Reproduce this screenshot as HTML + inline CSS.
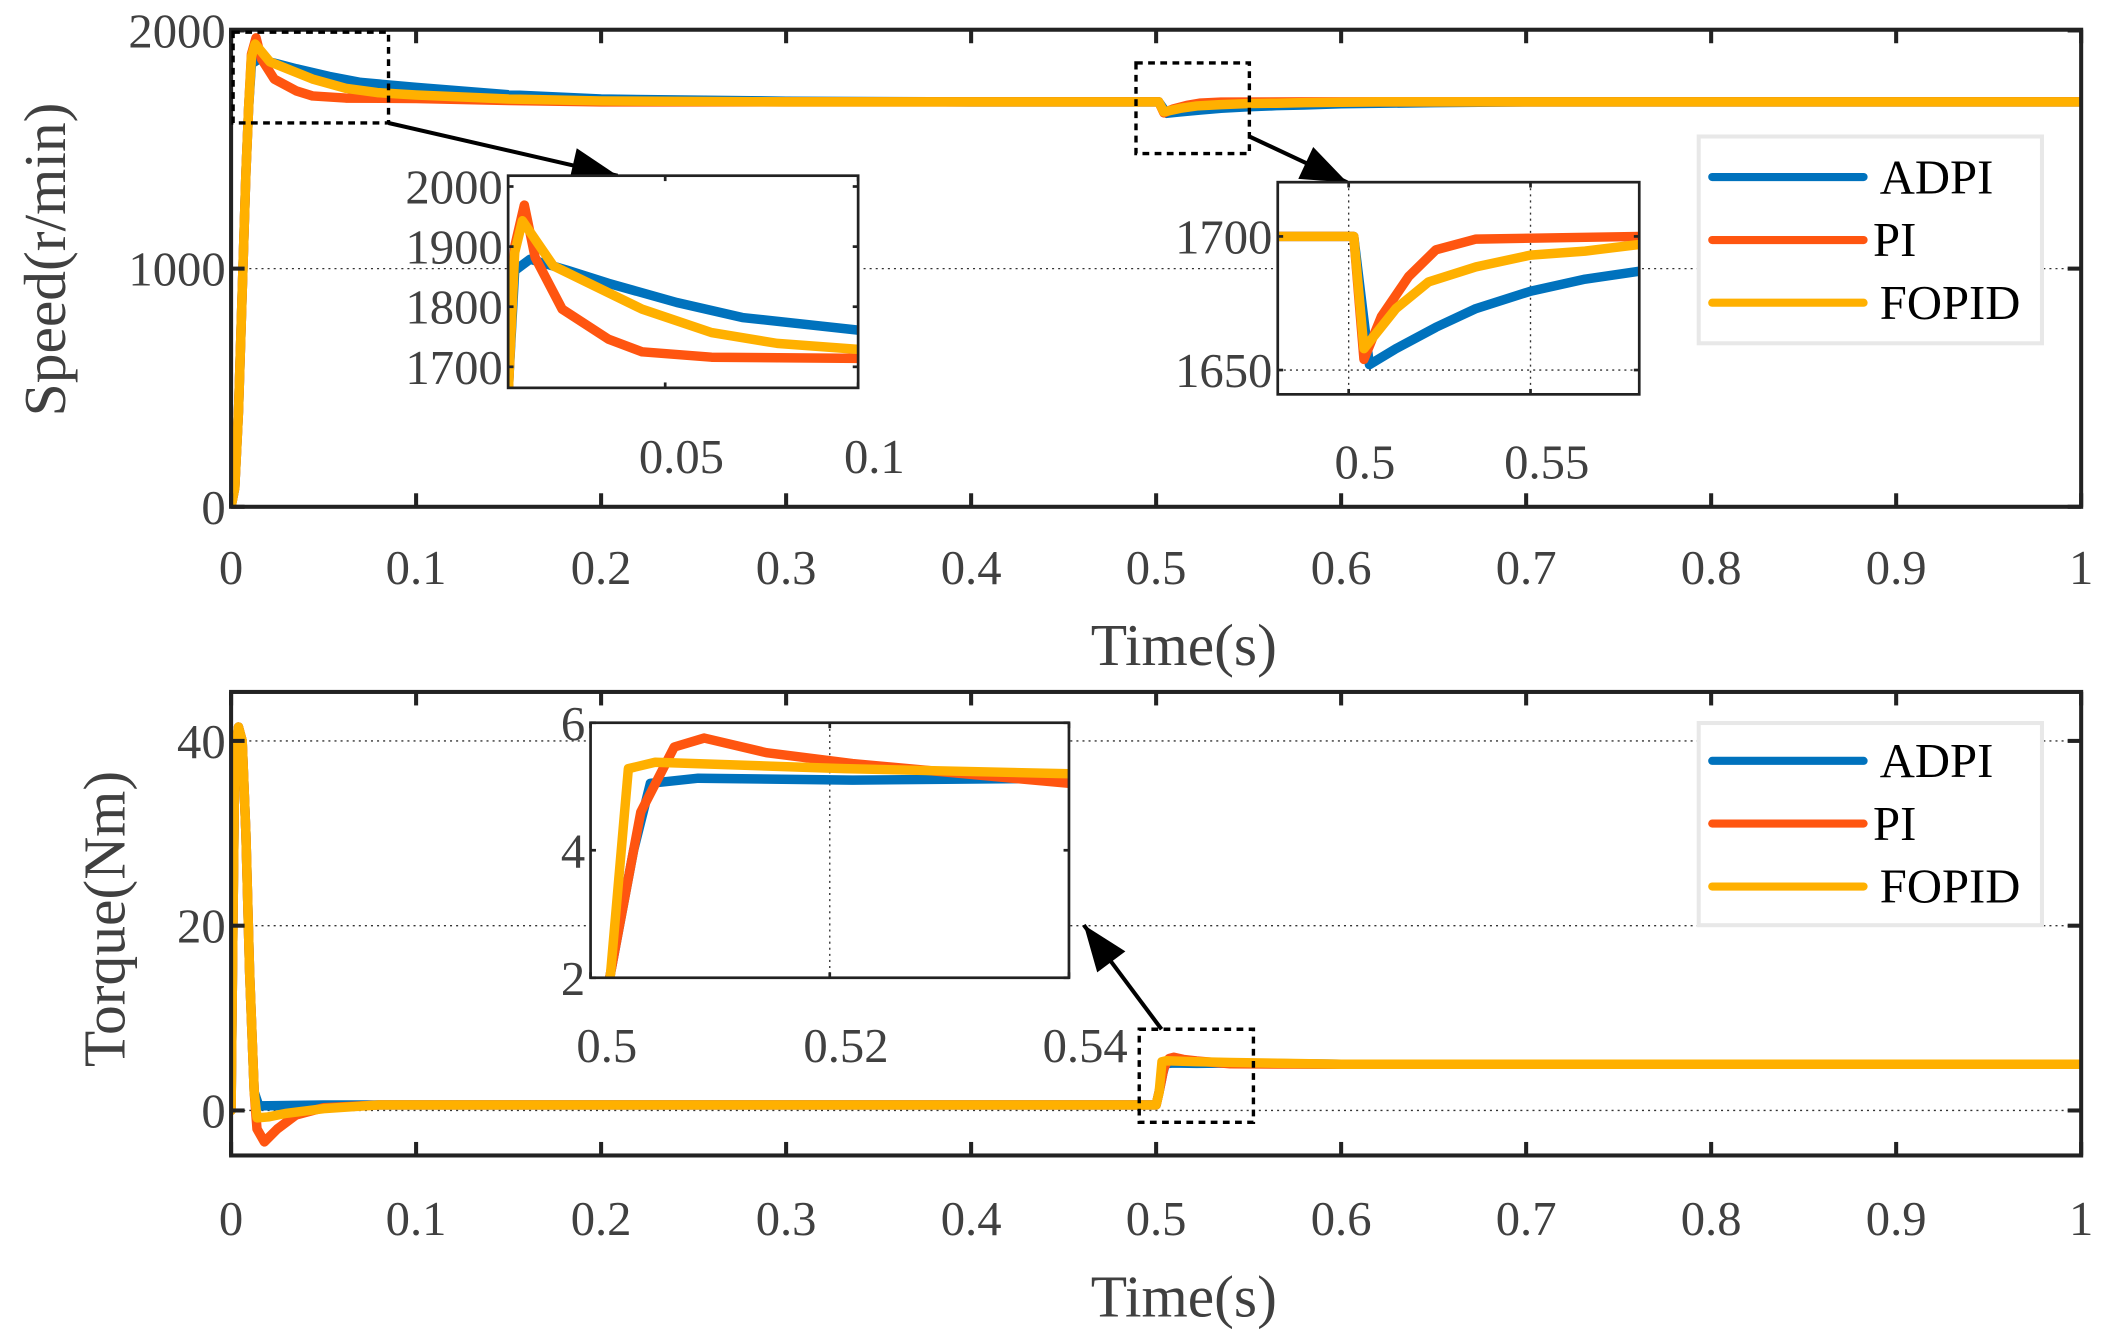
<!DOCTYPE html>
<html><head><meta charset="utf-8"><style>
html,body{margin:0;padding:0;background:#fff;width:2119px;height:1344px;overflow:hidden;}
svg{display:block;}
text{font-family:"Liberation Serif","DejaVu Serif",serif;}
</style></head>
<body>
<svg id="fig" xmlns="http://www.w3.org/2000/svg" width="2119" height="1344" viewBox="0 0 1568 994.5" preserveAspectRatio="none">
<defs>
<clipPath id="c1"><rect x="171" y="21" width="1369" height="354"/></clipPath>
<clipPath id="c2"><rect x="171" y="512" width="1369" height="343"/></clipPath>
<clipPath id="c3"><rect x="376" y="130" width="259" height="157"/></clipPath>
<clipPath id="c4"><rect x="945.5" y="134.8" width="267.5" height="157"/></clipPath>
<clipPath id="c5"><rect x="437" y="534.8" width="354" height="188.7"/></clipPath>
</defs>
<g id="root"></g>
</svg>
<script>
// ---- data ----
const speedT_ADPI = [0,0.002,0.004,0.006,0.008,0.0095,0.011,0.015,0.025,0.0353,0.053,0.070,0.1,0.15,0.2,0.3,0.4,0.5,0.5014,0.5057,0.513,0.524,0.535,0.550,0.565,0.58,0.6,0.65,0.7,1];
const speedV_ADPI = [0,80,400,900,1400,1680,1860,1879,1860,1839,1807,1782,1761,1730,1712,1703,1700,1700,1700,1652,1658,1666,1673,1679.5,1684,1687,1692,1697,1700,1700];
const speedT_PI = [0,0.002,0.004,0.006,0.008,0.0095,0.011,0.0135,0.0163,0.0233,0.0353,0.044,0.062,0.1,0.15,0.2,0.5,0.5014,0.5042,0.509,0.5165,0.524,0.535,0.58,1];
const speedV_PI = [0,80,400,900,1400,1680,1900,1969,1882,1796,1746,1725,1716,1714,1706,1700,1700,1700,1654,1670,1685,1695,1699,1700,1700];
const speedT_FO = [0,0.002,0.004,0.006,0.008,0.0095,0.011,0.013,0.021,0.044,0.062,0.079,0.1,0.15,0.2,0.3,0.5,0.5014,0.5042,0.513,0.522,0.535,0.550,0.565,0.58,0.62,1];
const speedV_FO = [0,80,400,900,1400,1680,1890,1943,1868,1796,1757,1739,1729,1712,1704,1700,1700,1700,1658,1673,1683,1688.6,1693,1694.5,1697,1700,1700];

const torqT_ADPI = [0,0.001,0.002,0.004,0.006,0.008,0.010,0.0125,0.015,0.05,0.5,0.5016,0.5036,0.505,0.509,0.5219,0.54,0.6,1];
const torqV_ADPI = [0,20,38,41.5,40,30,15,2,0.5,0.6,0.6,2,4.0,5.05,5.13,5.1,5.13,5.0,5.0];
const torqT_PI = [0,0.001,0.002,0.004,0.006,0.008,0.010,0.0125,0.014,0.018,0.025,0.035,0.05,0.08,0.5,0.5016,0.5042,0.507,0.5095,0.5147,0.5219,0.54,0.6,1];
const torqV_PI = [0,20,38,41.5,40,30,15,2,-2,-3.4,-2,-0.5,0.3,0.6,0.6,2,4.6,5.62,5.76,5.53,5.36,5.05,5.0,5.0];
const torqT_FO = [0,0.001,0.002,0.004,0.006,0.008,0.010,0.0125,0.014,0.02,0.03,0.05,0.08,0.5,0.50164,0.50316,0.5054,0.5212,0.54,0.6,1];
const torqV_FO = [0,20,38,41.5,40,30,15,2,-0.8,-0.7,-0.3,0.2,0.6,0.6,2,5.28,5.38,5.28,5.2,5.0,5.0];

const mainXTicks = [0,0.1,0.2,0.3,0.4,0.5,0.6,0.7,0.8,0.9,1];
const mainXLabels = ["0","0.1","0.2","0.3","0.4","0.5","0.6","0.7","0.8","0.9","1"];
const speedYTicks = [0,1000,2000];
const torqYTicks = [0,20,40];
const inset1YTicks = [1700,1800,1900,2000];
const inset1XTicks = [0.05,0.1];
const inset2YTicks = [1650,1700];
const inset2XTicks = [0.5,0.55];
const inset3YTicks = [2,4,6];
const inset3XTicks = [0.5,0.52,0.54];
const seriesNames = ["ADPI","PI","FOPID"];
const colors = {ADPI:"#0072BD",PI:"#FF5510",FOPID:"#FFB000"};

// ---- helpers ----
const NS="http://www.w3.org/2000/svg";
const root=document.getElementById('root');
function el(tag,attrs,parent){const e=document.createElementNS(NS,tag);for(const k in attrs)e.setAttribute(k,attrs[k]);(parent||root).appendChild(e);return e;}
function lin(d0,d1,r0,r1){return v=>r0+(v-d0)/(d1-d0)*(r1-r0);}
function txt(s,x,y,size,anchor,parent,fill){const t=el('text',{x:x,y:y,'font-size':size,'text-anchor':anchor||'middle',fill:fill||'#404040'},parent);t.textContent=s;return t;}

function axes(o){
  const g=el('g',{});
  
  
  const sx=lin(o.xd[0],o.xd[1],o.x0,o.x1), sy=lin(o.yd[0],o.yd[1],o.y1,o.y0);
  el('rect',{x:o.x0,y:o.y0,width:o.x1-o.x0,height:o.y1-o.y0,fill:'#fff',stroke:'none'},g);
  (o.yGrid||[]).forEach(v=>{const l=el('line',{x1:o.x0,x2:o.x1,y1:sy(v),y2:sy(v),stroke:'#333','stroke-width':1,'stroke-dasharray':'1.5 3'},g);
    
    });
  (o.xGrid||[]).forEach(v=>{const l=el('line',{x1:sx(v),x2:sx(v),y1:o.y0,y2:o.y1,stroke:'#333','stroke-width':1,'stroke-dasharray':'1.5 3'},g);
    
    });
  const sg=el('g',{'clip-path':'url(#'+o.clip+')'},g);
  o.series.forEach(s=>{
    let d='';
    s.t.forEach((t,i)=>{d+=(i?'L':'M')+sx(t).toFixed(2)+','+sy(s.v[i]).toFixed(2);});
    const p=el('path',{d:d,fill:'none',stroke:colors[s.n],'stroke-width':o.lw,'stroke-linejoin':'round','stroke-linecap':'round'},sg);
    
    
  });
  el('rect',{x:o.x0,y:o.y0,width:o.x1-o.x0,height:o.y1-o.y0,fill:'none',stroke:'#222','stroke-width':o.fw},g);
  const tl=o.tickLen||0;
  (o.xTicks||[]).forEach((v,i)=>{
    if(tl){el('line',{x1:sx(v),x2:sx(v),y1:o.y1,y2:o.y1-tl,stroke:'#222','stroke-width':o.fw},g);
      el('line',{x1:sx(v),x2:sx(v),y1:o.y0,y2:o.y0+tl,stroke:'#222','stroke-width':o.fw},g);}
    const t=txt(o.xLabels?o.xLabels[i]:String(v),sx(v)+(o.xLabDx||0),o.xLabY,o.fs,'middle',g);
    
    
  });
  (o.yTicks||[]).forEach(v=>{
    if(tl){el('line',{x1:o.x0,x2:o.x0+tl,y1:sy(v),y2:sy(v),stroke:'#222','stroke-width':o.fw},g);
      el('line',{x1:o.x1,x2:o.x1-tl,y1:sy(v),y2:sy(v),stroke:'#222','stroke-width':o.fw},g);}
    const t=txt(String(v),o.x0-4,sy(v)+o.fs*0.35,o.fs,'end',g);
    
    
  });
  return g;
}

function legend(x0,y0,x1,y1,ys,name){
  const g=el('g',{});
  
  
  el('rect',{x:x0,y:y0,width:x1-x0,height:y1-y0,fill:'#fff',stroke:'#e8e8e8','stroke-width':3},g);
  seriesNames.forEach((n,i)=>{
    const e=el('g',{},g);
    
    
    el('line',{x1:1267,x2:1379,y1:ys[i],y2:ys[i],stroke:colors[n],'stroke-width':6,'stroke-linecap':'round'},e);
    txt(n,n==='PI'?1386:1391,ys[i]+12,36,'start',e,'#000');
  });
}

axes({name:'speed-axes',x0:171,x1:1540,y0:22,y1:375,xd:[0,1],yd:[0,2003],clip:'c1',lw:7,fw:3,tickLen:10,
  xTicks:mainXTicks,xLabels:mainXLabels,xLabY:432,yTicks:speedYTicks,yGrid:[1000],fs:36,
  series:[{n:'ADPI',t:speedT_ADPI,v:speedV_ADPI},{n:'PI',t:speedT_PI,v:speedV_PI},{n:'FOPID',t:speedT_FO,v:speedV_FO}]});
axes({name:'torque-axes',x0:171,x1:1540,y0:512,y1:855,xd:[0,1],yd:[-4.87,45.3],clip:'c2',lw:7,fw:3,tickLen:10,
  xTicks:mainXTicks,xLabels:mainXLabels,xLabY:914,yTicks:torqYTicks,yGrid:[0,20,40],fs:36,
  series:[{n:'ADPI',t:torqT_ADPI,v:torqV_ADPI},{n:'PI',t:torqT_PI,v:torqV_PI},{n:'FOPID',t:torqT_FO,v:torqV_FO}]});

legend(1257,101,1511,254,[131,177.6,224],'speed-legend');
legend(1257,535,1511,684.6,[563,609.4,656],'torque-legend');

[[172.5,23.8,287.5,91],[840.6,46.6,924.5,113.6],[843,761.6,927.5,830.5]].forEach(b=>{
  const r=el('rect',{x:b[0],y:b[1],width:b[2]-b[0],height:b[3]-b[1],fill:'none',stroke:'#000','stroke-width':2.5,'stroke-dasharray':'5 4'});
  
  
});
[[287.5,91,457,130],[924.5,101,997,135],[859.5,761.6,802,684.5]].forEach(a=>{
  const l=el('line',{x1:a[0],y1:a[1],x2:a[2],y2:a[3],stroke:'#000','stroke-width':3});
  
  
  const ang=Math.atan2(a[3]-a[1],a[2]-a[0]),L=34,W=13;
  const bx=a[2]-L*Math.cos(ang),by=a[3]-L*Math.sin(ang);
  const p=el('polygon',{points:[a[2],a[3],bx-W*Math.sin(ang),by+W*Math.cos(ang),bx+W*Math.sin(ang),by-W*Math.cos(ang)].join(','),fill:'#000'});
  
  
});

axes({name:'speed-inset-startup',x0:376,x1:635,y0:130,y1:287,xd:[0.0093,0.1],yd:[1665,2018],clip:'c3',lw:7,fw:2,tickLen:4,
  xTicks:inset1XTicks,xLabels:["0.05","0.1"],xLabY:350,xLabDx:12,yTicks:inset1YTicks,fs:36,
  series:[{n:'ADPI',t:speedT_ADPI,v:speedV_ADPI},{n:'PI',t:speedT_PI,v:speedV_PI},{n:'FOPID',t:speedT_FO,v:speedV_FO}]});
axes({name:'speed-inset-load',x0:945.5,x1:1213,y0:134.8,y1:291.8,xd:[0.4805,0.5799],yd:[1640.9,1720.3],clip:'c4',lw:7,fw:2,tickLen:4,
  xTicks:inset2XTicks,xLabels:["0.5","0.55"],xLabY:354,xLabDx:12,yTicks:inset2YTicks,xGrid:[0.5,0.55],yGrid:[1650],fs:36,
  series:[{n:'ADPI',t:speedT_ADPI,v:speedV_ADPI},{n:'PI',t:speedT_PI,v:speedV_PI},{n:'FOPID',t:speedT_FO,v:speedV_FO}]});
axes({name:'torque-inset-load',x0:437,x1:791,y0:534.8,y1:723.5,xd:[0.5,0.54],yd:[2,6],clip:'c5',lw:7,fw:2,tickLen:4,
  xTicks:inset3XTicks,xLabels:["0.5","0.52","0.54"],xLabY:786,xLabDx:12,yTicks:inset3YTicks,xGrid:[0.52],fs:36,
  series:[{n:'ADPI',t:torqT_ADPI,v:torqV_ADPI},{n:'PI',t:torqT_PI,v:torqV_PI},{n:'FOPID',t:torqT_FO,v:torqV_FO}]});

let t=txt('Time(s)',876,492,44,'middle');


t=txt('Time(s)',876,974,44,'middle');


t=txt('Speed(r/min)',0,0,44,'middle');t.setAttribute('transform','translate(48,192) rotate(-90)');


t=txt('Torque(Nm)',0,0,44,'middle');t.setAttribute('transform','translate(92,680) rotate(-90)');


</script>
</body></html>
